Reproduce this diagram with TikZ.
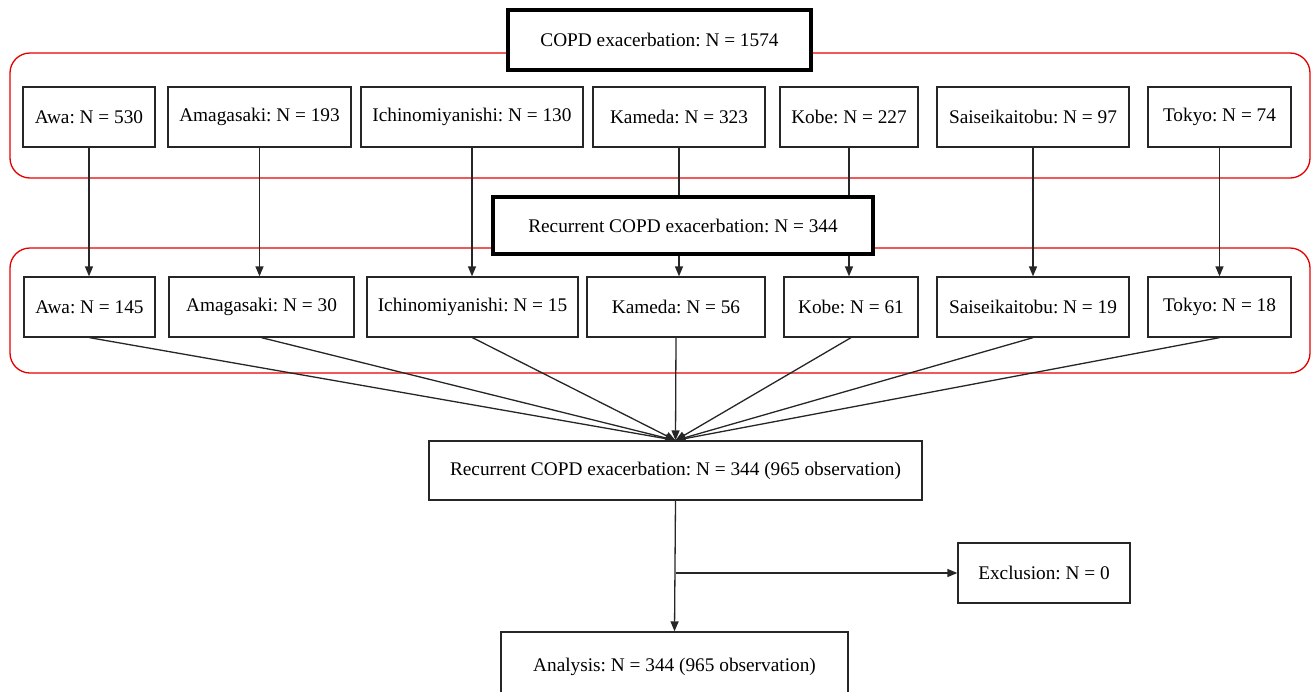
\documentclass[tikz,border=0pt]{standalone}
\usepackage{fontspec}
\setmainfont{Liberation Serif}
\usetikzlibrary{arrows.meta,backgrounds}
\frenchspacing
\begin{document}
\begin{tikzpicture}[x=1pt,y=-1pt,
 box/.style={draw=black!85, line width=1.3pt, fill=white, inner sep=0pt, align=center, font=\fontsize{19.3}{22}\selectfont\frenchspacing},
 thickbox/.style={box, draw=black, line width=4pt},
 grp/.style={draw=red!90!black, line width=1.3pt, rounded corners=20pt},
 conn/.style={draw=black!85, line width=1.3pt},
 arr/.style={conn, -{Triangle[length=10pt,width=8pt]}}]
\useasboundingbox (0,0) rectangle (1312,691);
% top row
\node[box, minimum width=132pt, minimum height=60pt] (t1) at (89,117) {Awa: N = 530};
\node[box, minimum width=183pt, minimum height=60pt] (t2) at (259.5,117) {Amagasaki: N = 193};
\node[box, minimum width=222pt, minimum height=60pt] (t3) at (472,117) {Ichinomiyanishi: N = 130};
\node[box, minimum width=172pt, minimum height=60pt] (t4) at (679,117) {Kameda: N = 323};
\node[box, minimum width=138pt, minimum height=60pt] (t5) at (849,117) {Kobe: N = 227};
\node[box, minimum width=192pt, minimum height=60pt] (t6) at (1033,117) {Saiseikaitobu: N = 97};
\node[box, minimum width=143pt, minimum height=60pt] (t7) at (1219.5,117) {Tokyo: N = 74};
% second row
\node[box, minimum width=131pt, minimum height=60pt] (b1) at (89.5,307) {Awa: N = 145};
\node[box, minimum width=185pt, minimum height=60pt] (b2) at (261.5,307) {Amagasaki: N = 30};
\node[box, minimum width=211pt, minimum height=60pt] (b3) at (472.5,307) {Ichinomiyanishi: N = 15};
\node[box, minimum width=178pt, minimum height=60pt] (b4) at (676,307) {Kameda: N = 56};
\node[box, minimum width=134pt, minimum height=60pt] (b5) at (851,307) {Kobe: N = 61};
\node[box, minimum width=192pt, minimum height=60pt] (b6) at (1033,307) {Saiseikaitobu: N = 19};
\node[box, minimum width=143pt, minimum height=60pt] (b7) at (1219.5,307) {Tokyo: N = 18};
% headers
\node[thickbox, minimum width=303pt, minimum height=60pt] (copd) at (659.5,40) {COPD exacerbation: N = 1574};
\node[thickbox, minimum width=380pt, minimum height=57pt] (rec) at (683,225.5) {Recurrent COPD exacerbation: N = 344};
% bottom
\node[box, minimum width=493pt, minimum height=59pt] (all) at (675.5,470.5) {Recurrent COPD exacerbation: N = 344 (965 observation)};
\node[box, minimum width=172pt, minimum height=60pt] (excl) at (1044,573) {Exclusion: N = 0};
\node[box, minimum width=347pt, minimum height=72pt] (ana) at (674.5,668) {\raisebox{6pt}{Analysis: N = 344 (965 observation)}};
\coordinate (split) at (all.south |- excl.west);
\begin{scope}[on background layer]
\draw[grp] (10,53) rectangle (1310,178);
\draw[grp] (10,248) rectangle (1310,373);
\foreach \i in {1,...,7}{
  \draw[arr] (t\i.south) -- (t\i.south |- b\i.north);
  \draw[arr] (b\i.south) -- (all.north);
}
\draw[arr] (all.south) -- (ana.north);
\draw[arr] (split) -- (excl.west);
\end{scope}
\end{tikzpicture}
\end{document}
